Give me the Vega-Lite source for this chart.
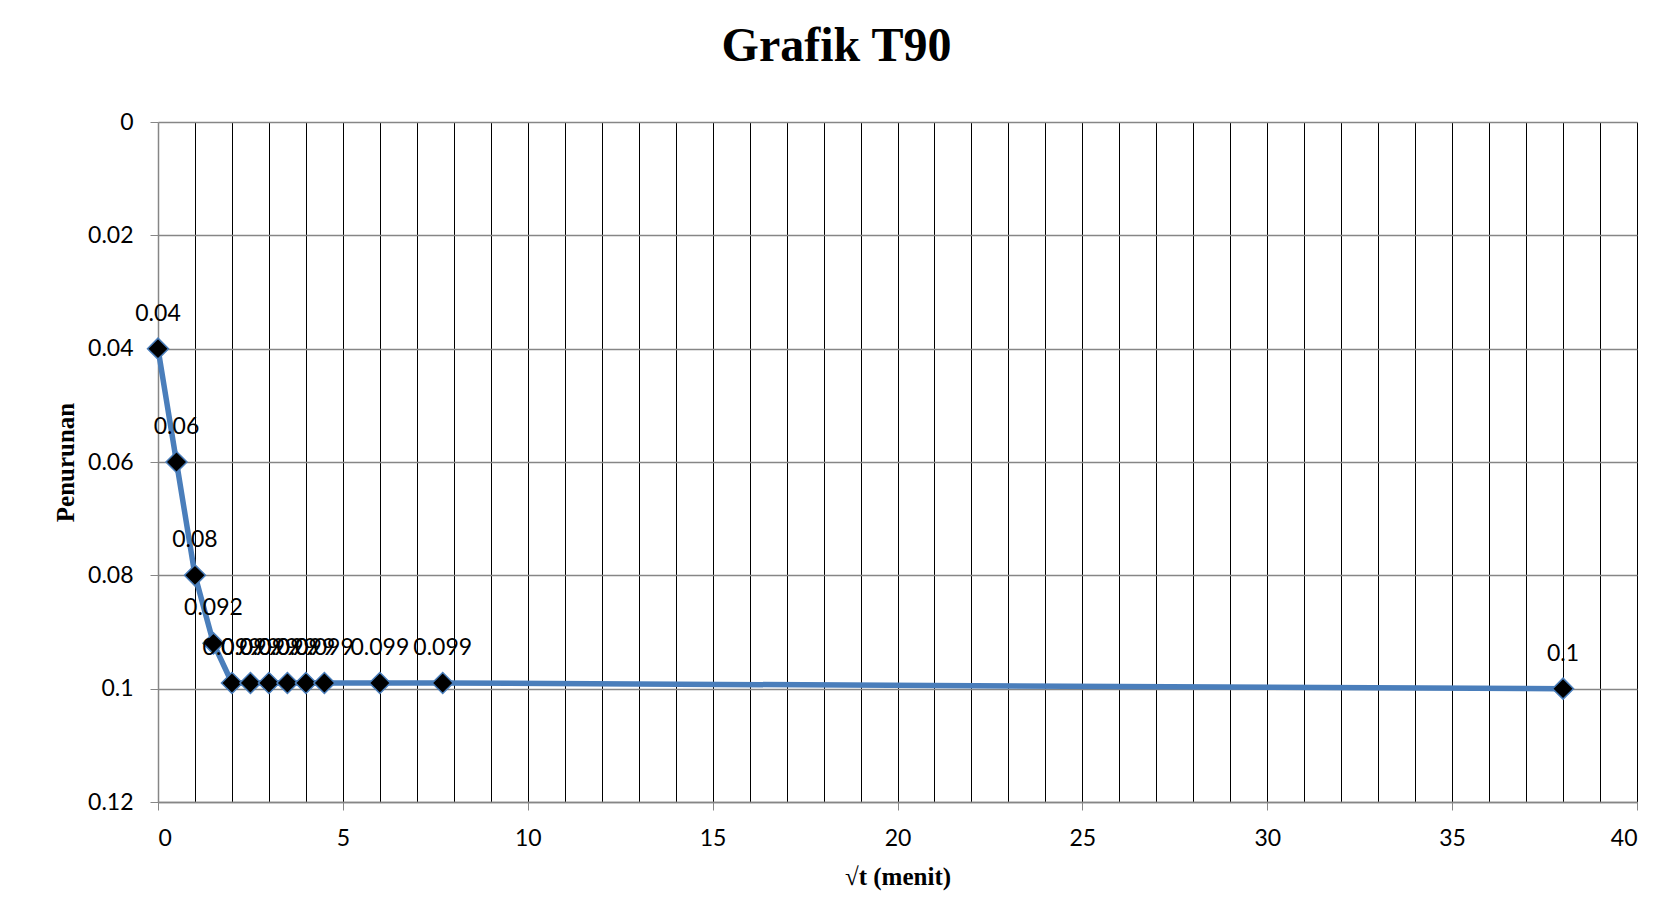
{
  "$schema": "https://vega.github.io/schema/vega-lite/v6.json",
  "autosize": {"type": "none"},
  "padding": {"left": 158, "top": 122, "right": 34, "bottom": 120},
  "width": 1479,
  "height": 680,
  "background": "white",
  "title": {
    "text": "Grafik T90",
    "font": "Liberation Serif",
    "fontSize": 48,
    "fontWeight": "bold",
    "color": "black",
    "anchor": "middle",
    "baseline": "alphabetic",
    "dx": -61,
    "offset": 2
  },
  "config": {
    "view": {"stroke": null},
    "axis": {
      "labelFont": "Lato",
      "labelFontSize": 23,
      "labelColor": "black",
      "titleFont": "Liberation Serif",
      "titleFontSize": 25,
      "titleFontWeight": "bold",
      "titleColor": "black",
      "domainColor": "#868686",
      "tickColor": "#868686",
      "tickSize": 8,
      "labelPadding": 17
    }
  },
  "data": {
    "values": [
      {"akar_t": 0, "penurunan": 0.04},
      {"akar_t": 0.5, "penurunan": 0.06},
      {"akar_t": 1, "penurunan": 0.08},
      {"akar_t": 1.5, "penurunan": 0.092},
      {"akar_t": 2, "penurunan": 0.099},
      {"akar_t": 2.5, "penurunan": 0.099},
      {"akar_t": 3, "penurunan": 0.099},
      {"akar_t": 3.5, "penurunan": 0.099},
      {"akar_t": 4, "penurunan": 0.099},
      {"akar_t": 4.5, "penurunan": 0.099},
      {"akar_t": 6, "penurunan": 0.099},
      {"akar_t": 7.7, "penurunan": 0.099},
      {"akar_t": 38, "penurunan": 0.1}
    ]
  },
  "resolve": {"axis": {"x": "independent", "y": "independent"}},
  "layer": [
    {
      "mark": {"type": "line", "color": "#4A7EBB", "strokeWidth": 5.5, "strokeJoin": "round"},
      "encoding": {
        "x": {
          "field": "akar_t",
          "type": "quantitative",
          "scale": {"domain": [0, 40], "nice": false, "zero": false},
          "axis": {
            "orient": "bottom",
            "values": [1,2,3,4,5,6,7,8,9,10,11,12,13,14,15,16,17,18,19,20,21,22,23,24,25,26,27,28,29,30,31,32,33,34,35,36,37,38,39,40],
            "grid": true,
            "gridColor": "black",
            "gridWidth": 1,
            "gridOpacity": 1,
            "labels": false,
            "ticks": false,
            "domain": false,
            "title": null
          }
        },
        "y": {
          "field": "penurunan",
          "type": "quantitative",
          "scale": {"domain": [0, 0.12], "reverse": true, "nice": false},
          "axis": {
            "orient": "left",
            "values": [0, 0.02, 0.04, 0.06, 0.08, 0.1, 0.12],
            "grid": true,
            "gridColor": "#868686",
            "gridWidth": 1.3,
            "gridOpacity": 1,
            "labels": false,
            "ticks": false,
            "domain": false,
            "title": null
          }
        }
      }
    },
    {
      "mark": {"type": "point", "shape": "diamond", "filled": true, "size": 440, "fill": "black", "stroke": "#4A7EBB", "strokeWidth": 1.5, "opacity": 1},
      "encoding": {
        "x": {
          "field": "akar_t",
          "type": "quantitative",
          "axis": {
            "orient": "bottom",
            "values": [0, 5, 10, 15, 20, 25, 30, 35, 40],
            "grid": false,
            "domainWidth": 1.5,
            "title": "√t (menit)",
            "titlePadding": 14
          }
        },
        "y": {
          "field": "penurunan",
          "type": "quantitative",
          "axis": {
            "orient": "left",
            "values": [0, 0.02, 0.04, 0.06, 0.08, 0.1, 0.12],
            "format": ".2~g",
            "grid": false,
            "domainWidth": 1.5,
            "title": "Penurunan",
            "titlePadding": 9
          }
        }
      }
    },
    {
      "mark": {"type": "text", "font": "Lato", "fontSize": 23, "color": "black", "baseline": "middle", "dy": -35},
      "encoding": {
        "x": {"field": "akar_t", "type": "quantitative", "axis": null},
        "y": {"field": "penurunan", "type": "quantitative", "axis": null},
        "text": {"field": "penurunan", "type": "quantitative", "format": ".3~g"}
      }
    }
  ]
}
